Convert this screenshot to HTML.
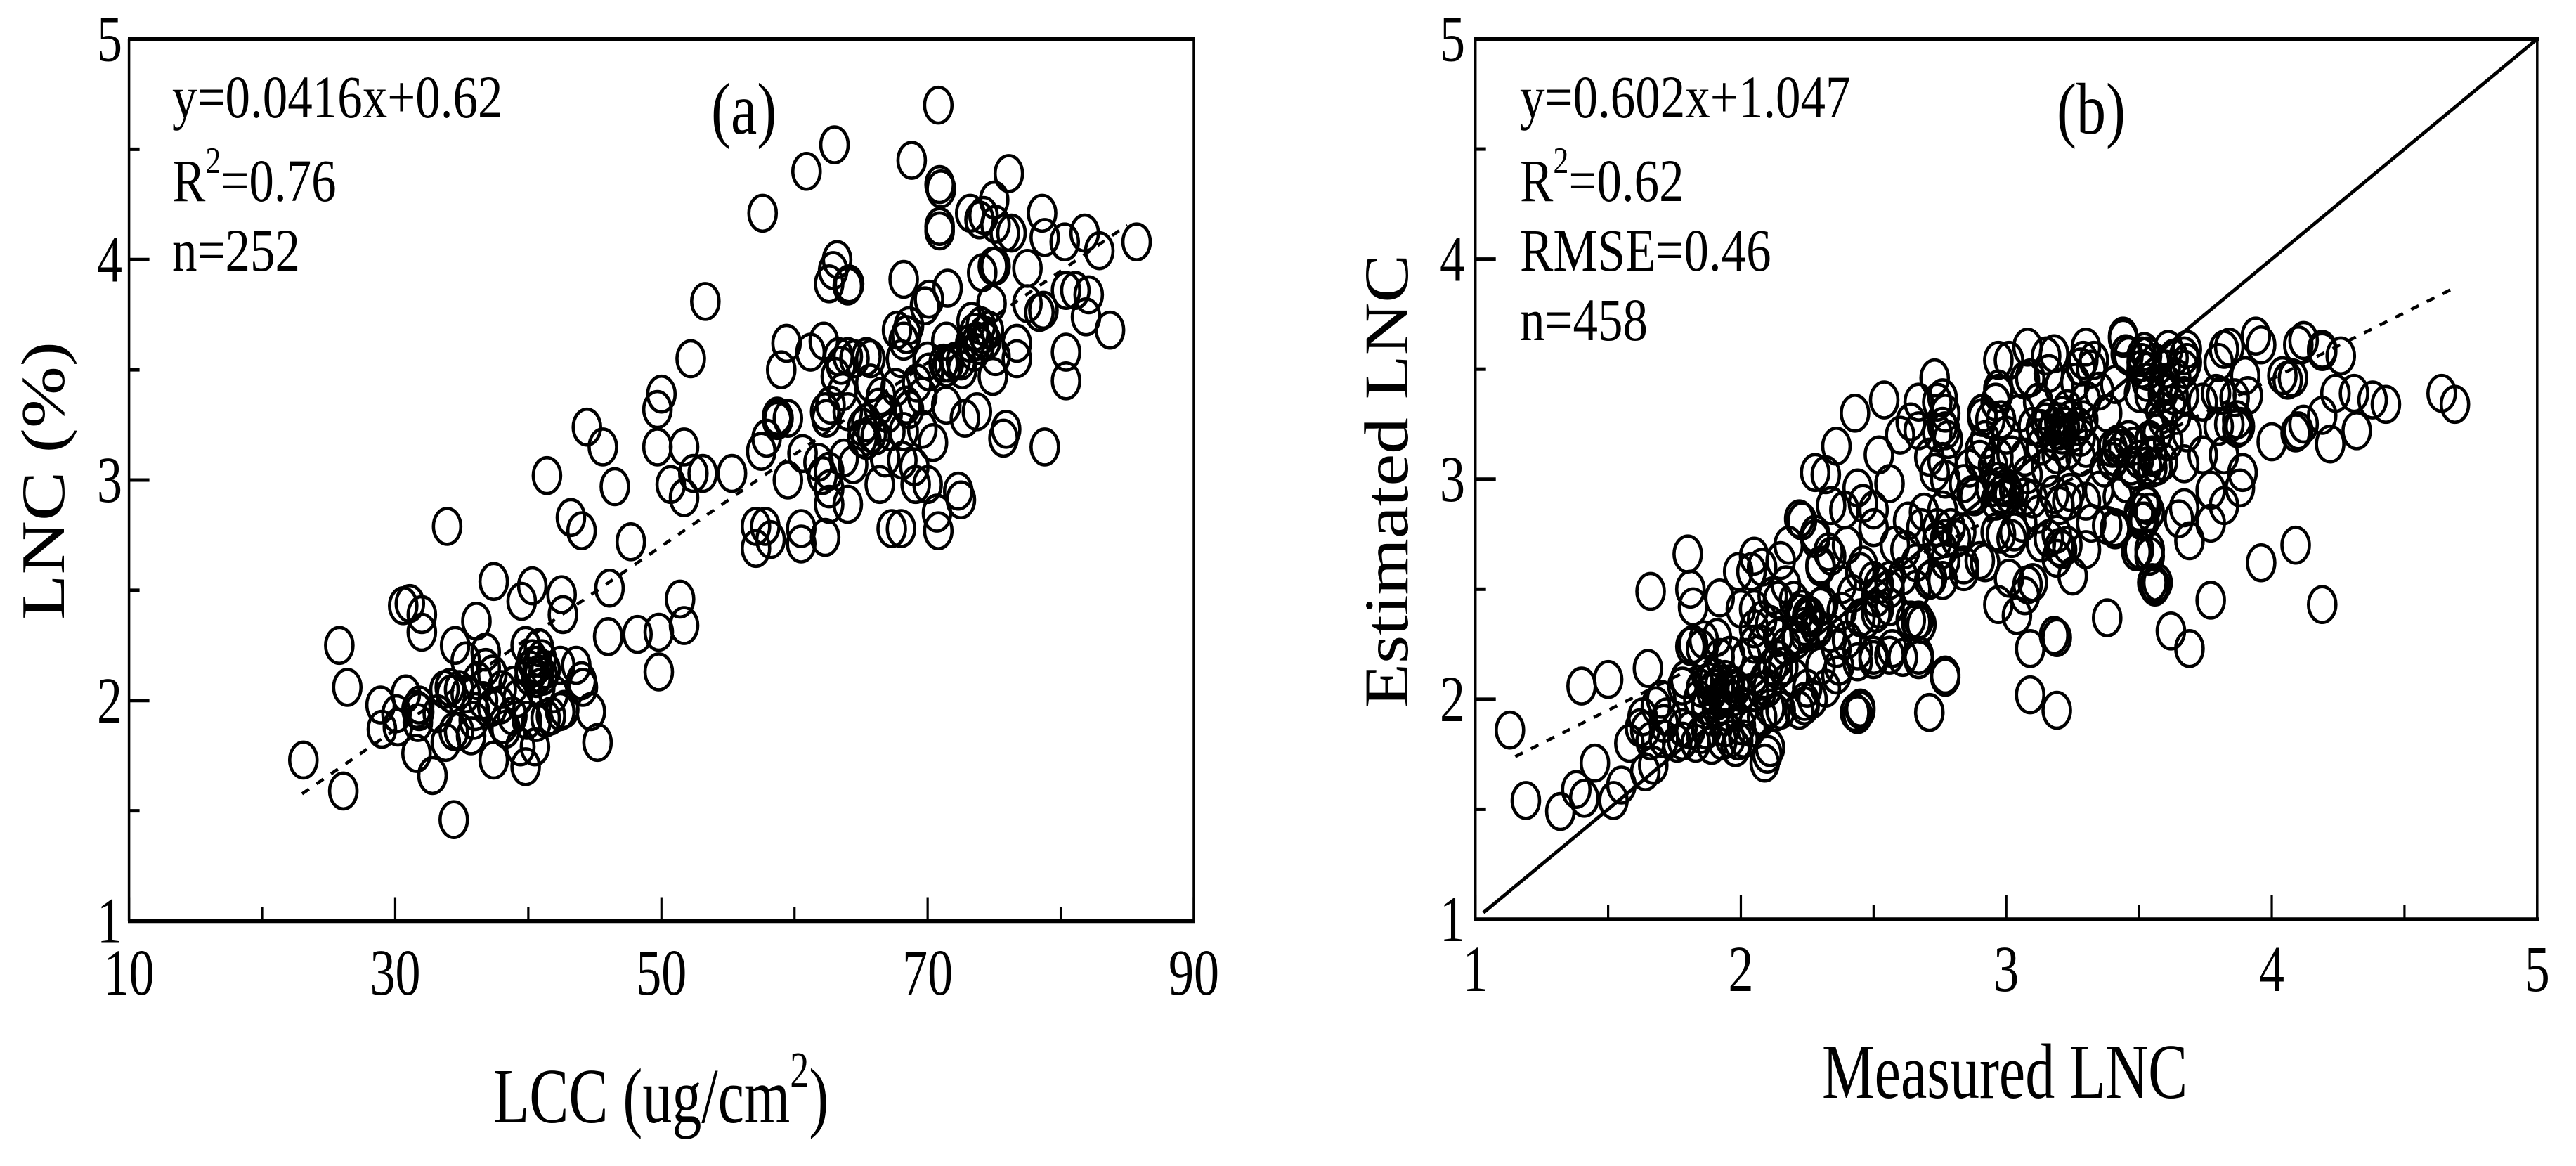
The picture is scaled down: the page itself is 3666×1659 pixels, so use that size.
<!DOCTYPE html>
<html lang="en">
<head>
<meta charset="utf-8">
<title>LNC scatter plots</title>
<style>
html,body{margin:0;padding:0;background:#fff;}
svg{display:block;}
text{font-family:"Liberation Serif",serif;fill:#000;}
</style>
</head>
<body>
<svg id="chart" xmlns="http://www.w3.org/2000/svg" width="3666" height="1659" viewBox="0 0 3666 1659">
  <rect x="0" y="0" width="3666" height="1659" fill="#fff"/>
  <g id="panel-a"></g>
  <g id="panel-b"></g>

  <g stroke="#000" fill="none">
    <line x1="182" y1="55.5" x2="1701" y2="55.5" stroke-width="5.5"/>
    <line x1="182" y1="1310.5" x2="1701" y2="1310.5" stroke-width="5.5"/>
    <line x1="183.6" y1="55" x2="183.6" y2="1311" stroke-width="3.5"/>
    <line x1="1699" y1="55" x2="1699" y2="1311" stroke-width="3.5"/>
  </g>
  <g stroke="#000" fill="none">
    <line x1="2098" y1="55.5" x2="3613" y2="55.5" stroke-width="5.5"/>
    <line x1="2098" y1="1308" x2="3613" y2="1308" stroke-width="5.5"/>
    <line x1="2099.7" y1="55" x2="2099.7" y2="1309" stroke-width="3.5"/>
    <line x1="3610.8" y1="55" x2="3610.8" y2="1309" stroke-width="3.5"/>
  </g>

  <text transform="translate(245,167) scale(1,1.21)" font-size="71">y=0.0416x+0.62</text>
  <text transform="translate(245,286) scale(1,1.21)" font-size="71">R<tspan dy="-33" font-size="44">2</tspan><tspan dy="33">=0.76</tspan></text>
  <text transform="translate(245,385) scale(1,1.21)" font-size="71">n=252</text>
  <text transform="translate(1012,190) scale(1,1.24)" font-size="84">(a)</text>

  <text transform="translate(2163,167) scale(1,1.21)" font-size="71">y=0.602x+1.047</text>
  <text transform="translate(2163,286) scale(1,1.21)" font-size="71">R<tspan dy="-33" font-size="44">2</tspan><tspan dy="33">=0.62</tspan></text>
  <text transform="translate(2163,385) scale(1,1.21)" font-size="71">RMSE=0.46</text>
  <text transform="translate(2163,484) scale(1,1.21)" font-size="71">n=458</text>
  <text transform="translate(2927,190) scale(1,1.24)" font-size="84">(b)</text>

  <text transform="translate(702,1597) scale(1,1.33)" font-size="84">LCC (ug/cm<tspan dy="-38" font-size="54">2</tspan><tspan dy="38">)</tspan></text>
  <text transform="translate(91,684) rotate(-90) scale(1.2,1)" font-size="88" text-anchor="middle">LNC (%)</text>
  <text transform="translate(2593,1562) scale(1,1.32)" font-size="84">Measured LNC</text>
  <text transform="translate(2003,684.5) rotate(-90) scale(1.16,1)" font-size="89" text-anchor="middle">Estimated LNC</text>
</svg>

<script>
// Panel (a) data: [LCC, LNC]
const panelAPoints = [
[33.9,2.79],[43.2,2.83],[44.0,2.77],[47.7,2.72],[37.4,2.54],[40.3,2.52],[39.5,2.45],[42.5,2.48],[42.6,2.39],[46.1,2.51],
[36.1,2.36],[31.1,2.44],[30.6,2.43],[32.0,2.39],[32.0,2.31],[25.8,2.25],[26.4,2.06],[34.5,2.25],[36.8,2.22],[46.0,2.29],
[48.2,2.30],[45.2,1.81],[23.1,1.73],[26.1,1.59],[34.4,1.46],[32.8,1.66],[31.6,1.76],[37.4,1.73],[39.8,1.70],[40.5,1.79],
[39.4,1.79],[33.8,1.81],[35.7,1.84],[34.8,1.86],[34.4,1.86],[38.1,1.89],[38.3,1.87],[29.0,1.87],[30.2,1.88],[31.7,1.90],
[28.9,1.98],[30.1,1.94],[30.8,2.03],[31.8,1.98],[31.8,1.95],[31.6,1.96],[34.1,2.06],[33.7,2.05],[34.8,2.05],[35.3,2.18],
[34.2,2.03],[36.8,2.15],[37.3,2.12],[36.2,2.09],[36.6,2.00],[37.3,1.97],[36.0,1.95],[38.0,2.05],[38.9,2.07],[39.8,2.25],
[40.8,2.24],[41.0,2.19],[40.4,2.16],[40.1,2.14],[40.8,2.12],[41.1,2.11],[40.6,2.10],[40.1,2.11],[41.3,2.14],[40.3,2.19],
[40.7,2.16],[43.6,2.16],[44.0,2.09],[44.1,2.06],[42.4,2.16],[41.9,2.03],[44.7,1.95],[42.4,1.95],[41.7,1.93],[41.3,1.92],
[40.6,1.90],[39.9,1.91],[42.7,1.96],[37.9,1.98],[38.8,1.93],[35.3,2.03],[35.9,1.91],[39.2,2.01],[33.2,1.94],[40.9,2.06],
[53.3,3.81],[57.6,4.21],[63.2,4.00],[62.9,3.95],[62.6,3.89],[64.1,3.89],[64.0,3.88],[68.2,3.91],[71.5,3.87],[70.1,3.82],
[69.8,3.79],[77.5,3.96],[73.9,4.18],[75.1,4.16],[76.3,4.12],[75.1,3.97],[74.1,3.94],[74.9,3.97],[78.8,4.10],[80.3,4.08],
[77.5,3.80],[78.4,3.76],[80.4,3.86],[80.4,3.58],[80.4,3.45],[74.8,3.80],[73.3,3.72],[74.0,3.70],[73.5,3.67],[74.2,3.66],
[73.7,3.63],[73.9,3.61],[73.2,3.62],[74.4,3.63],[73.5,3.58],[74.6,3.68],[76.7,3.62],[76.7,3.55],[75.1,3.56],[74.9,3.47],
[73.7,3.31],[71.4,3.34],[71.4,3.63],[71.2,3.53],[70.0,3.54],[70.1,3.49],[72.1,3.54],[71.6,3.53],[72.5,3.54],[72.6,3.50],
[71.4,3.51],[68.0,3.55],[67.7,3.68],[68.6,3.70],[68.4,3.66],[68.2,3.63],[59.4,3.62],[59.0,3.50],[61.2,3.58],[62.2,3.63],
[63.3,3.56],[64.0,3.56],[64.5,3.55],[65.4,3.56],[65.7,3.55],[63.5,3.52],[63.1,3.47],[62.7,3.34],[62.3,3.31],[62.4,3.28],
[64.0,3.31],[65.1,3.24],[65.4,3.26],[65.8,3.21],[65.1,3.19],[66.1,3.20],[65.4,3.18],[66.3,3.33],[66.5,3.38],[68.4,3.34],
[68.6,3.32],[69.6,3.23],[70.4,3.17],[68.2,3.22],[67.2,3.22],[58.7,3.29],[58.8,3.28],[59.5,3.28],[58.7,3.27],[57.9,3.19],
[57.5,3.13],[55.3,3.03],[53.1,3.03],[59.5,3.00],[62.1,3.02],[62.6,3.04],[63.7,3.10],[64.4,3.07],[62.6,2.96],[62.6,2.89],
[64.0,2.89],[66.4,2.98],[68.1,3.09],[69.0,3.06],[69.1,2.98],[70.0,2.98],[70.7,2.85],[72.3,2.95],[72.5,2.91],[70.8,2.77],
[75.9,3.23],[75.7,3.19],[78.8,3.15],[67.3,2.78],[68.0,2.78],[57.1,2.79],[57.8,2.79],[58.2,2.73],[57.1,2.69],[60.5,2.78],
[60.5,2.71],[62.3,2.74],[70.8,4.70],[63.0,4.52],[60.9,4.40],[68.8,4.45],[70.9,4.34],[71.0,4.32],[76.1,4.39],[75.0,4.27],
[73.2,4.21],[74.2,4.20],[70.9,4.15],[78.6,4.21],[70.9,4.13],[75.8,4.12],[81.8,4.12],[85.7,4.08],[82.9,4.04],[81.1,3.86],
[82.1,3.84],[83.7,3.68],[81.9,3.74],[78.7,3.77],[50.0,3.39],[49.7,3.32],[52.2,3.55],[44.4,3.24],[45.6,3.15],[46.5,2.97],
[41.4,3.02],[49.7,3.15],[51.7,3.15],[50.7,2.98],[51.7,2.92],[52.4,3.03],[51.4,2.46],[51.7,2.34],[49.8,2.31],[49.8,2.13],
[63.6,3.40],[67.0,3.30],[69.6,3.38],[65.7,3.44],[66.8,3.10],[61.8,3.08],[72.8,3.28],[69.2,3.44],[60.6,3.12],[67.6,3.42]
];
const panelASlope = 0.0416;
const panelAIntercept = 0.62;
const panelAFitRange = [23, 85];
const panelAXTickLabels = [10, 30, 50, 70, 90];
const panelAXMinorTicks = [20, 40, 60, 80];
const panelAYTickLabels = [1, 2, 3, 4, 5];
const panelAYMinorTicks = [1.5, 2.5, 3.5, 4.5];

// Panel (b) data: [Measured LNC, Estimated LNC]
const panelBPoints = [
[1.80,2.66],[1.66,2.49],[1.81,2.50],[1.82,2.42],[1.92,2.46],[2.22,2.82],[2.28,2.75],[2.33,2.67],[2.30,2.60],[2.05,2.65],
[2.08,2.60],[2.15,2.63],[1.99,2.58],[2.04,2.58],[2.17,2.52],[2.14,2.45],[2.12,2.47],[2.00,2.41],[2.05,2.41],[2.20,2.45],
[2.23,2.41],[2.26,2.37],[2.30,2.42],[2.24,2.30],[2.28,2.33],[2.05,2.32],[2.08,2.36],[2.11,2.34],[2.14,2.28],[2.05,2.25],
[2.08,2.25],[2.17,2.24],[2.21,2.27],[1.82,2.25],[1.81,2.24],[1.85,2.23],[1.91,2.28],[1.86,2.27],[1.92,2.19],[1.96,2.20],
[2.02,2.19],[2.09,2.09],[2.05,2.11],[2.12,2.15],[2.14,2.18],[2.16,2.15],[1.65,2.14],[1.40,2.06],[1.50,2.09],[1.13,1.86],
[1.19,1.54],[1.32,1.49],[1.38,1.59],[1.41,1.55],[1.45,1.71],[1.55,1.61],[1.52,1.54],[1.64,1.67],[1.67,1.70],[1.58,1.80],
[1.62,1.87],[1.63,1.92],[1.68,1.97],[1.70,2.00],[1.71,1.89],[1.64,1.86],[1.66,1.81],[1.71,1.82],[1.78,2.06],[1.79,2.09],
[1.76,1.80],[1.83,1.80],[1.78,1.81],[1.89,1.79],[1.85,1.84],[1.87,1.86],[1.93,1.81],[1.98,1.78],[1.96,1.82],[2.01,1.82],
[1.99,1.81],[2.11,1.78],[2.09,1.71],[2.10,1.75],[1.87,2.11],[1.90,2.10],[1.92,2.07],[1.94,2.09],[1.96,2.07],[1.85,2.05],
[1.89,2.03],[1.93,2.01],[1.96,2.00],[1.87,1.97],[1.91,1.96],[1.84,2.00],[1.98,2.05],[2.00,2.03],[2.05,2.03],[2.08,2.04],
[2.10,2.05],[2.01,1.96],[2.14,2.13],[2.15,1.95],[2.11,1.96],[2.24,1.97],[2.22,1.95],[2.08,1.92],[2.13,1.94],[1.78,1.87],
[1.81,1.86],[1.94,1.87],[2.00,1.88],[2.04,1.87],[1.72,1.92],[1.90,2.05],[1.94,2.03],[1.88,2.08],[1.91,1.99],[1.95,1.94],
[2.73,3.46],[2.54,3.36],[2.43,3.30],[2.36,3.15],[2.52,3.11],[2.67,3.35],[2.64,3.26],[2.60,3.20],[2.67,3.22],[2.76,3.37],
[2.74,3.35],[2.77,3.30],[2.76,3.24],[2.74,3.21],[2.77,3.22],[2.78,3.18],[2.71,3.10],[2.76,3.08],[2.73,3.03],[2.77,3.00],
[2.28,3.03],[2.32,3.02],[2.56,2.98],[2.44,2.96],[2.34,2.88],[2.39,2.86],[2.46,2.89],[2.50,2.86],[2.50,2.78],[2.23,2.81],
[2.28,2.73],[2.34,2.65],[2.30,2.61],[2.63,2.81],[2.69,2.85],[2.76,2.86],[2.68,2.78],[2.74,2.78],[2.79,2.78],[2.77,2.73],
[2.81,2.73],[2.74,2.72],[2.83,2.76],[2.76,2.68],[2.62,2.68],[2.77,2.63],[2.72,2.55],[2.76,2.54],[2.71,2.54],[2.84,2.61],
[2.90,2.63],[2.92,2.62],[2.84,2.58],[2.46,2.61],[2.45,2.58],[2.52,2.52],[2.56,2.50],[2.52,2.41],[2.56,2.54],[2.61,2.56],
[2.50,2.54],[2.51,2.46],[2.56,2.42],[2.38,2.40],[2.31,2.43],[2.22,2.39],[2.26,2.38],[2.24,2.33],[2.29,2.32],[2.21,2.29],
[2.45,2.37],[2.51,2.39],[2.64,2.36],[2.68,2.34],[2.44,2.22],[2.50,2.20],[2.57,2.23],[2.61,2.19],[2.67,2.18],[2.37,2.15],
[2.77,2.11],[2.97,3.54],[3.01,3.54],[3.08,3.60],[3.15,3.56],[3.18,3.57],[3.30,3.60],[3.29,3.54],[3.33,3.54],[3.28,3.51],
[3.32,3.50],[3.44,3.64],[3.46,3.56],[3.51,3.56],[3.53,3.56],[3.41,3.43],[3.51,3.50],[3.53,3.44],[3.07,3.45],[3.09,3.46],
[3.16,3.48],[2.97,3.39],[2.97,3.41],[2.91,3.28],[2.91,3.30],[2.98,3.27],[2.96,3.35],[2.94,3.27],[3.16,3.28],[3.20,3.26],
[3.22,3.24],[3.17,3.21],[3.21,3.20],[3.25,3.21],[3.27,3.24],[3.19,3.17],[3.13,3.23],[3.10,3.24],[3.28,3.19],[3.23,3.32],
[3.29,3.27],[3.19,3.11],[3.28,3.10],[3.23,3.13],[3.07,3.10],[3.13,3.15],[3.30,3.14],[3.18,3.24],[3.20,3.22],[3.24,3.27],
[3.15,3.26],[3.21,3.29],[2.90,3.13],[2.90,3.09],[2.97,3.10],[3.02,3.11],[2.95,3.06],[2.98,2.97],[2.98,2.93],[3.01,2.93],
[2.94,2.96],[2.96,2.90],[3.03,2.95],[3.07,2.92],[3.10,2.91],[2.88,2.92],[2.87,2.93],[2.97,2.99],[3.00,2.96],[2.99,2.91],
[3.18,2.93],[3.23,2.90],[3.20,2.88],[3.24,2.94],[3.40,3.14],[3.42,3.14],[3.44,3.14],[3.48,3.15],[3.37,3.05],[3.48,3.04],
[3.41,3.10],[3.54,3.17],[3.55,3.10],[3.55,3.05],[3.50,3.09],[3.32,2.80],[3.38,2.79],[3.41,2.78],[3.50,2.85],[3.51,2.81],
[3.54,2.85],[3.19,2.75],[3.20,2.69],[3.16,2.73],[3.13,2.71],[3.21,2.68],[3.23,2.70],[3.19,2.64],[3.30,2.68],[3.25,2.56],
[2.96,2.76],[3.03,2.76],[2.98,2.75],[3.02,2.73],[3.49,2.67],[3.54,2.65],[3.55,2.53],[3.01,2.55],[2.97,2.43],[3.04,2.38],
[3.08,2.52],[3.10,2.53],[3.07,2.47],[3.38,2.37],[3.18,2.29],[3.19,2.28],[3.09,2.23],[3.09,2.02],[3.19,1.95],[3.44,3.65],
[3.45,3.57],[3.52,3.58],[3.61,3.59],[3.68,3.59],[3.67,3.56],[3.63,3.55],[3.60,3.50],[3.67,3.50],[3.68,3.53],[3.56,3.53],
[3.53,3.49],[3.51,3.53],[3.94,3.65],[3.96,3.61],[3.84,3.60],[3.82,3.59],[3.80,3.53],[3.90,3.47],[4.12,3.63],[4.10,3.61],
[4.19,3.59],[4.26,3.56],[4.19,3.58],[4.08,3.46],[4.06,3.45],[4.04,3.47],[4.24,3.39],[4.31,3.39],[4.38,3.36],[4.43,3.34],
[4.64,3.39],[4.69,3.34],[4.19,3.29],[4.12,3.25],[4.10,3.22],[4.09,3.21],[4.00,3.17],[4.22,3.16],[4.32,3.22],[3.91,3.38],
[3.86,3.37],[3.81,3.38],[3.87,3.27],[3.88,3.24],[3.84,3.25],[3.87,3.23],[3.80,3.24],[3.79,3.39],[3.74,3.35],[3.67,3.38],
[3.63,3.38],[3.59,3.39],[3.54,3.38],[3.50,3.39],[3.59,3.27],[3.57,3.21],[3.54,3.18],[3.61,3.17],[3.55,3.11],[3.59,3.08],
[3.57,3.06],[3.53,3.06],[3.67,3.07],[3.46,3.18],[3.42,3.16],[3.40,3.08],[3.47,3.06],[3.68,3.21],[3.74,3.11],[3.82,3.11],
[3.89,3.03],[3.88,2.96],[3.77,2.95],[3.82,2.88],[3.67,2.87],[3.65,2.82],[3.77,2.80],[3.69,2.72],[3.52,2.89],[3.53,2.88],
[3.50,2.85],[3.52,2.81],[3.50,2.68],[3.54,2.68],[3.41,2.77],[3.56,2.52],[3.56,2.51],[3.57,2.53],[3.77,2.45],[3.96,2.62],
[4.09,2.70],[4.19,2.43],[3.62,2.31],[3.69,2.23],[2.71,1.94],[2.77,2.10],[2.67,2.20],[2.45,1.96],[2.43,1.94],[2.24,1.99],
[2.27,2.00],[2.32,2.05],[2.36,2.11],[2.50,2.18],[2.56,2.20],[2.67,2.36],[2.66,2.35],[2.44,2.17],[2.47,2.36],[2.36,2.23],
[2.25,2.38],[2.45,1.95],[2.44,1.93],[3.60,3.44],[3.64,3.46],[3.59,3.42],[3.62,3.34],[3.58,3.31],[3.64,3.29],[3.20,3.42],
[3.26,3.44],[3.12,3.35],[3.35,3.40],[3.38,3.30],[3.30,3.36],[3.05,3.30],[3.00,3.20],[2.86,3.05],[2.84,2.98],[2.92,3.18],
[3.08,3.02],[3.15,3.05],[3.35,2.95],[3.42,2.92],[3.30,2.90],[3.45,2.98],[3.12,2.84],[3.06,2.80],[2.58,2.70],[2.66,2.62],
[2.40,2.70],[2.18,2.70],[2.38,2.52],[2.42,2.48],[2.34,2.30],[2.40,2.27],[2.30,2.15],[2.20,2.10],[2.25,2.05],[2.66,2.50]
];
const panelBSlope = 0.602;
const panelBIntercept = 1.047;
const panelBFitRange = [1.15, 4.7];
const panelBIdentityRange = [1.03, 5];
const panelBXTickLabels = [1, 2, 3, 4, 5];
const panelBXMinorTicks = [1.5, 2.5, 3.5, 4.5];
const panelBYTickLabels = [1, 2, 3, 4, 5];
const panelBYMinorTicks = [1.5, 2.5, 3.5, 4.5];

const SVGNS = 'http://www.w3.org/2000/svg';

function make(tag, parent) {
  const el = document.createElementNS(SVGNS, tag);
  parent.appendChild(el);
  return el;
}

function linear(d0, d1, r0, r1) {
  return function (v) { return r0 + (v - d0) / (d1 - d0) * (r1 - r0); };
}

function drawMarkers(parent, points, sx, sy, prefix) {
  points.forEach(function (p) {
    const m = make('ellipse', parent);
    
    
    m.setAttribute('cx', sx(p[0]));
    m.setAttribute('cy', sy(p[1]));
    m.setAttribute('rx', 19.5);
    m.setAttribute('ry', 25.5);
    m.setAttribute('fill', 'none');
    m.setAttribute('stroke', '#000');
    m.setAttribute('stroke-width', 4.6);
  });
}

function drawFit(parent, range, slope, intercept, sx, sy, name) {
  const l = make('line', parent);
  
  
  l.setAttribute('x1', sx(range[0]));
  l.setAttribute('y1', sy(slope * range[0] + intercept));
  l.setAttribute('x2', sx(range[1]));
  l.setAttribute('y2', sy(slope * range[1] + intercept));
  l.setAttribute('stroke', '#000');
  l.setAttribute('stroke-width', 4.5);
  l.setAttribute('stroke-dasharray', '12 13');
}

function drawTicks(parent, opts) {
  const sx = opts.sx, sy = opts.sy;
  opts.xMajor.forEach(function (v) {
    const t = make('line', parent);
    
    
    t.setAttribute('x1', sx(v));
    t.setAttribute('x2', sx(v));
    t.setAttribute('y1', opts.bottom);
    t.setAttribute('y2', opts.bottom - 34);
    t.setAttribute('stroke', '#000');
    t.setAttribute('stroke-width', 3.2);
    const lab = make('text', parent);
    
    
    lab.setAttribute('transform', 'translate(' + sx(v) + ',' + opts.xLabelBaseline + ') scale(1,1.3)');
    lab.setAttribute('text-anchor', 'middle');
    lab.setAttribute('font-size', 72);
    lab.textContent = v;
  });
  opts.xMinor.forEach(function (v) {
    const t = make('line', parent);
    
    
    t.setAttribute('x1', sx(v));
    t.setAttribute('x2', sx(v));
    t.setAttribute('y1', opts.bottom);
    t.setAttribute('y2', opts.bottom - 20);
    t.setAttribute('stroke', '#000');
    t.setAttribute('stroke-width', 3.2);
  });
  opts.yMajor.forEach(function (v) {
    const t = make('line', parent);
    
    
    t.setAttribute('x1', opts.left);
    t.setAttribute('x2', opts.left + 29);
    t.setAttribute('y1', sy(v));
    t.setAttribute('y2', sy(v));
    t.setAttribute('stroke', '#000');
    t.setAttribute('stroke-width', 5);
    const lab = make('text', parent);
    
    
    lab.setAttribute('transform', 'translate(' + opts.yLabelRight + ',' + (sy(v) + 31) + ') scale(1,1.3)');
    lab.setAttribute('text-anchor', 'end');
    lab.setAttribute('font-size', 72);
    lab.textContent = v;
  });
  opts.yMinor.forEach(function (v) {
    const t = make('line', parent);
    
    
    t.setAttribute('x1', opts.left);
    t.setAttribute('x2', opts.left + 15);
    t.setAttribute('y1', sy(v));
    t.setAttribute('y2', sy(v));
    t.setAttribute('stroke', '#000');
    t.setAttribute('stroke-width', 5);
  });
}

// Panel (a)
(function () {
  const g = document.getElementById('panel-a');
  const sx = linear(10, 90, 183.6, 1699);
  const sy = linear(1, 5, 1310.5, 55.5);
  drawTicks(g, {
    sx: sx, sy: sy, prefix: 'panel-a', left: 183.6, bottom: 1310.5,
    xLabelBaseline: 1415, yLabelRight: 174,
    xMajor: panelAXTickLabels, xMinor: panelAXMinorTicks,
    yMajor: panelAYTickLabels, yMinor: panelAYMinorTicks
  });
  drawFit(g, panelAFitRange, panelASlope, panelAIntercept, sx, sy, 'panel-a-regression-line');
  drawMarkers(g, panelAPoints, sx, sy, 'panel-a');
})();

// Panel (b)
(function () {
  const g = document.getElementById('panel-b');
  const sx = linear(1, 5, 2099.7, 3610.8);
  const sy = linear(1, 5, 1308, 55.5);
  drawTicks(g, {
    sx: sx, sy: sy, prefix: 'panel-b', left: 2099.7, bottom: 1308,
    xLabelBaseline: 1410, yLabelRight: 2085,
    xMajor: panelBXTickLabels, xMinor: panelBXMinorTicks,
    yMajor: panelBYTickLabels, yMinor: panelBYMinorTicks
  });
  const id = make('line', g);
  
  
  id.setAttribute('x1', sx(panelBIdentityRange[0]));
  id.setAttribute('y1', sy(panelBIdentityRange[0]));
  id.setAttribute('x2', sx(panelBIdentityRange[1]));
  id.setAttribute('y2', sy(panelBIdentityRange[1]));
  id.setAttribute('stroke', '#000');
  id.setAttribute('stroke-width', 5);
  drawFit(g, panelBFitRange, panelBSlope, panelBIntercept, sx, sy, 'panel-b-regression-line');
  drawMarkers(g, panelBPoints, sx, sy, 'panel-b');
})();
</script>
</body>
</html>
